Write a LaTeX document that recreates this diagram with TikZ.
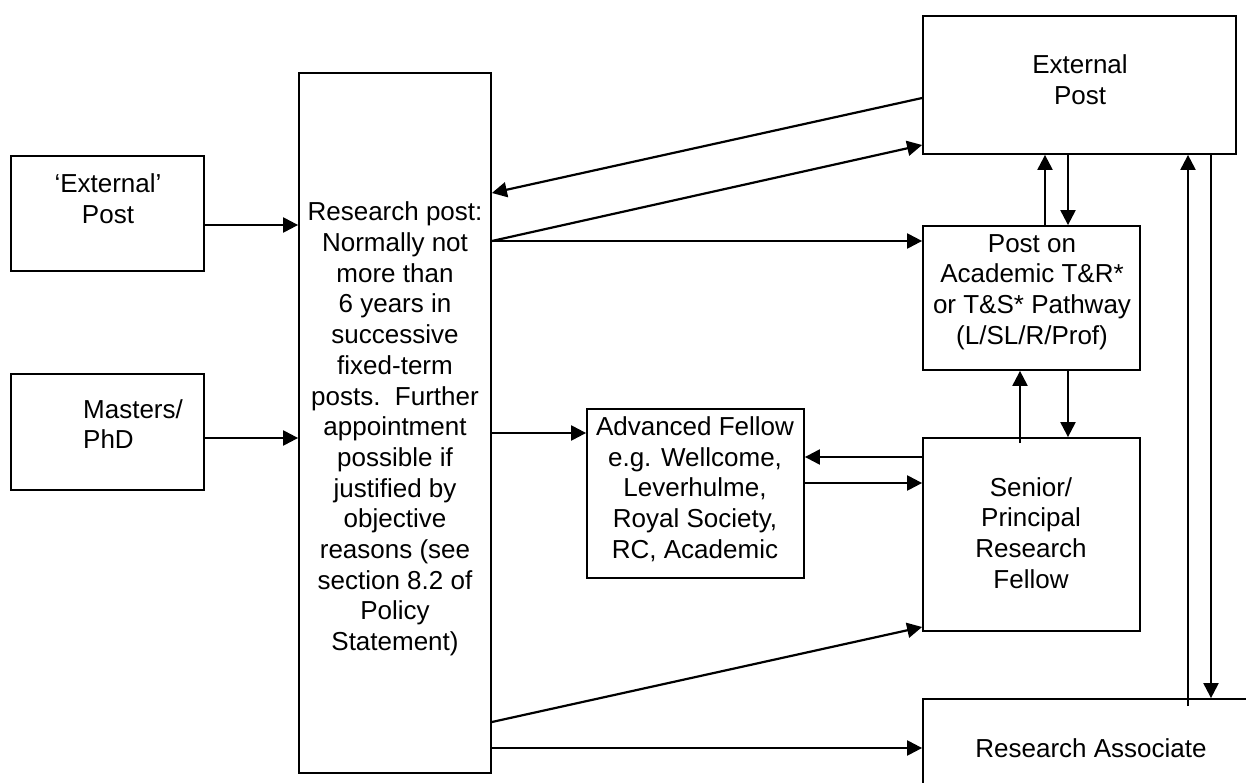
\documentclass[tikz,border=0pt]{standalone}
\usepackage{fontspec}
\setmainfont{Liberation Sans}
\usetikzlibrary{arrows.meta,calc}
\begin{document}
\begin{tikzpicture}[x=1pt,y=-1pt,
  box/.style={draw,line width=1.8pt,inner sep=0pt,rectangle},
  txt/.style={inner sep=0pt,align=center,font=\fontsize{26}{30.7}\selectfont},
  arr/.style={line width=2.2pt,-{Triangle[length=15pt,width=15pt]}}]
\useasboundingbox (0,0) rectangle (1246,783);
\fill[white] (0,0) rectangle (1246,783);
% boxes
\node[box,minimum width=193pt,minimum height=115pt] (ep) at (107.5,213.5) {};
\node[box,minimum width=193pt,minimum height=116pt] (md) at (107.5,432) {};
\node[box,minimum width=192pt,minimum height=700pt] (rp) at (395,423) {};
\node[box,minimum width=313pt,minimum height=138pt] (xp) at (1079.5,85) {};
\node[box,minimum width=217pt,minimum height=144pt] (ac) at (1031.5,298) {};
\node[box,minimum width=217pt,minimum height=169pt] (af) at (695.5,493.5) {};
\node[box,minimum width=217pt,minimum height=193pt] (sp) at (1031.5,534.5) {};
\node[box,minimum width=377pt,minimum height=121pt] (ra) at (1111.5,759.5) {};
% texts
\node[txt] (ept) at (108,199) {‘External’\\Post};
\node[txt,align=left,anchor=west] (mdt) at (83,424) {Masters/\\PhD};
\node[txt] (rpt) at (395,429) {Research post:\\Normally not\\more than\\6 years in\\successive\\fixed-term\\posts.\ \ Further\\appointment\\possible if\\justified by\\objective\\reasons (see\\section 8.2 of\\Policy\\Statement)};
\node[txt] (xpt) at (1080,80) {External\\Post};
\node[txt] (act) at (1032,292) {Post on\\Academic T\&R*\\or T\&S* Pathway\\(L/SL/R/Prof)};
\node[txt] (aft) at (695,489) {Advanced Fellow\\e.g. Wellcome,\\Leverhulme,\\Royal Society,\\RC, Academic};
\node[txt] (spt) at (1031,533) {Senior/\\Principal\\Research\\Fellow};
\node[txt] (rat) at (1091,748) {Research Associate};
% helper coordinates
\coordinate (spIn) at (1020,443);
\coordinate (raIn) at (1188,706);
% connectors
\draw[arr] (ep.east |- 0,225) -- (rp.west |- 0,225);
\draw[arr] (md.east |- 0,438) -- (rp.west |- 0,438);
\draw[arr] (xp.west |- 0,98) -- (rp.east |- 0,193);
\draw[arr] (rp.east |- 0,241) -- (xp.west |- 0,145);
\draw[arr] (rp.east |- 0,241) -- (ac.west |- 0,241);
\draw[arr] (ac.north -| 1045,0) -- (xp.south -| 1045,0);
\draw[arr] (xp.south -| 1068,0) -- (ac.north -| 1068,0);
\draw[arr] (spIn) -- (ac.south -| spIn);
\draw[arr] (ac.south -| 1068,0) -- (sp.north -| 1068,0);
\draw[arr] (rp.east |- 0,433) -- (af.west |- 0,433);
\draw[arr] (sp.west |- 0,457) -- (af.east |- 0,457);
\draw[arr] (af.east |- 0,483) -- (sp.west |- 0,483);
\draw[arr] (rp.east |- 0,722) -- (sp.west |- 0,627);
\draw[arr] (rp.east |- 0,748) -- (ra.west |- 0,748);
\draw[arr] (raIn) -- (xp.south -| raIn);
\draw[arr] (xp.south -| 1211,0) -- (ra.north -| 1211,0);
\end{tikzpicture}
\end{document}
